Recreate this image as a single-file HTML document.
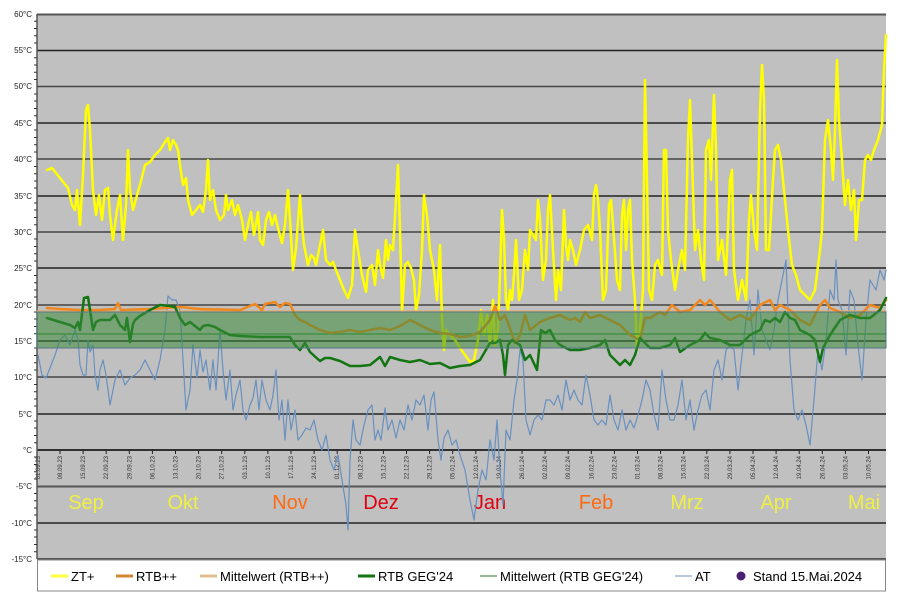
<!DOCTYPE html>
<html><head><meta charset="utf-8"><style>
html,body{margin:0;padding:0;background:#fff;width:902px;height:608px;overflow:hidden}
svg{display:block}
text{font-family:"Liberation Sans",sans-serif}
</style></head><body>
<svg width="902" height="608" viewBox="0 0 902 608" xmlns="http://www.w3.org/2000/svg">
<rect x="37" y="14" width="849" height="545" fill="#c0c0c0"/>
<g stroke="#222" stroke-width="1.5">
<line x1="37" y1="14.5" x2="886" y2="14.5" stroke="#555" stroke-width="2"/>
<line x1="37" y1="50.5" x2="886" y2="50.5"/>
<line x1="37" y1="86.5" x2="886" y2="86.5" stroke="#444"/>
<line x1="37" y1="123" x2="886" y2="123"/>
<line x1="37" y1="159" x2="886" y2="159" stroke="#444"/>
<line x1="37" y1="196" x2="886" y2="196"/>
<line x1="37" y1="232" x2="886" y2="232" stroke="#444"/>
<line x1="37" y1="268" x2="886" y2="268"/>
<line x1="37" y1="305" x2="886" y2="305" stroke="#444"/>
<line x1="37" y1="341" x2="886" y2="341"/>
<line x1="37" y1="377" x2="886" y2="377" stroke="#444"/>
<line x1="37" y1="414" x2="886" y2="414"/>
<line x1="37" y1="450" x2="886" y2="450" stroke="#000"/>
<line x1="37" y1="486.5" x2="886" y2="486.5" stroke="#555" stroke-width="2"/>
<line x1="37" y1="523" x2="886" y2="523"/>
<line x1="37" y1="559" x2="886" y2="559" stroke="#555" stroke-width="2"/>
</g>
<line x1="37" y1="14" x2="37" y2="559" stroke="#555" stroke-width="1.5"/>
<g stroke="#333" stroke-width="1">
<path d="M34 21.3h3M34 28.5h3M34 35.8h3M34 43h3M34 57.8h3M34 65h3M34 72.3h3M34 79.5h3M34 94h3M34 101h3M34 108.5h3M34 115.7h3M34 130h3M34 137.5h3M34 144.7h3M34 152h3M34 166.5h3M34 173.7h3M34 181h3M34 188h3M34 203h3M34 210h3M34 217.5h3M34 224.7h3M34 239h3M34 246.5h3M34 253.7h3M34 261h3M34 275.5h3M34 282.7h3M34 290h3M34 297h3M34 312h3M34 319h3M34 326.5h3M34 333.7h3M34 348h3M34 355.5h3M34 362.7h3M34 370h3M34 384.5h3M34 391.7h3M34 399h3M34 406h3M34 421h3M34 428h3M34 435.5h3M34 442.7h3M34 457h3M34 464.5h3M34 471.7h3M34 479h3M34 493.5h3M34 500.7h3M34 508h3M34 515h3M34 530h3M34 537h3M34 544.5h3M34 551.7h3"/>
</g>
<g font-size="8" fill="#222" text-anchor="end">
<text x="32" y="17">60°C</text><text x="32" y="53">55°C</text><text x="32" y="89">50°C</text><text x="32" y="126">45°C</text><text x="32" y="162">40°C</text><text x="32" y="199">35°C</text><text x="32" y="235">30°C</text><text x="32" y="271">25°C</text><text x="32" y="308">20°C</text><text x="32" y="344">15°C</text><text x="32" y="380">10°C</text><text x="32" y="417">5°C</text><text x="32" y="453">°C</text><text x="32" y="489">-5°C</text><text x="32" y="526">-10°C</text><text x="32" y="562">-15°C</text>
</g>
<!-- date ticks -->
<g stroke="#222" stroke-width="1">
<path d="M60 450v4M83.1 450v4M106.2 450v4M129.3 450v4M152.4 450v4M175.5 450v4M198.6 450v4M221.7 450v4M244.8 450v4M267.9 450v4M291 450v4M314.1 450v4M337.2 450v4M360.3 450v4M383.4 450v4M406.5 450v4M429.6 450v4M452.7 450v4M475.8 450v4M498.9 450v4M522 450v4M545.1 450v4M568.2 450v4M591.3 450v4M614.4 450v4M637.5 450v4M660.6 450v4M683.7 450v4M706.8 450v4M729.9 450v4M753 450v4M776.1 450v4M799.2 450v4M822.3 450v4M845.4 450v4M868.5 450v4"/>
</g>
<g font-size="6" fill="#333" text-anchor="end">
<text transform="translate(40,456) rotate(-90)">01.09.23</text>
<text transform="translate(62,456) rotate(-90)">08.09.23</text>
<text transform="translate(85.1,456) rotate(-90)">15.09.23</text>
<text transform="translate(108.2,456) rotate(-90)">22.09.23</text>
<text transform="translate(131.3,456) rotate(-90)">29.09.23</text>
<text transform="translate(154.4,456) rotate(-90)">06.10.23</text>
<text transform="translate(177.5,456) rotate(-90)">13.10.23</text>
<text transform="translate(200.6,456) rotate(-90)">20.10.23</text>
<text transform="translate(223.7,456) rotate(-90)">27.10.23</text>
<text transform="translate(246.8,456) rotate(-90)">03.11.23</text>
<text transform="translate(269.9,456) rotate(-90)">10.11.23</text>
<text transform="translate(293,456) rotate(-90)">17.11.23</text>
<text transform="translate(316.1,456) rotate(-90)">24.11.23</text>
<text transform="translate(339.2,456) rotate(-90)">01.12.23</text>
<text transform="translate(362.3,456) rotate(-90)">08.12.23</text>
<text transform="translate(385.4,456) rotate(-90)">15.12.23</text>
<text transform="translate(408.5,456) rotate(-90)">22.12.23</text>
<text transform="translate(431.6,456) rotate(-90)">29.12.23</text>
<text transform="translate(454.7,456) rotate(-90)">05.01.24</text>
<text transform="translate(477.8,456) rotate(-90)">12.01.24</text>
<text transform="translate(500.9,456) rotate(-90)">19.01.24</text>
<text transform="translate(524,456) rotate(-90)">26.01.24</text>
<text transform="translate(547.1,456) rotate(-90)">02.02.24</text>
<text transform="translate(570.2,456) rotate(-90)">09.02.24</text>
<text transform="translate(593.3,456) rotate(-90)">16.02.24</text>
<text transform="translate(616.4,456) rotate(-90)">23.02.24</text>
<text transform="translate(639.5,456) rotate(-90)">01.03.24</text>
<text transform="translate(662.6,456) rotate(-90)">08.03.24</text>
<text transform="translate(685.7,456) rotate(-90)">15.03.24</text>
<text transform="translate(708.8,456) rotate(-90)">22.03.24</text>
<text transform="translate(731.9,456) rotate(-90)">29.03.24</text>
<text transform="translate(755,456) rotate(-90)">05.04.24</text>
<text transform="translate(778.1,456) rotate(-90)">12.04.24</text>
<text transform="translate(801.2,456) rotate(-90)">19.04.24</text>
<text transform="translate(824.3,456) rotate(-90)">26.04.24</text>
<text transform="translate(847.4,456) rotate(-90)">03.05.24</text>
<text transform="translate(870.5,456) rotate(-90)">10.05.24</text>
</g>
<g font-size="20" text-anchor="middle">
<text x="86" y="509" fill="#f0f040">Sep</text>
<text x="183" y="509" fill="#f0f040">Okt</text>
<text x="290" y="509" fill="#ff6a10">Nov</text>
<text x="381" y="509" fill="#e00010">Dez</text>
<text x="490" y="509" fill="#e00010">Jan</text>
<text x="596" y="509" fill="#ff6a10">Feb</text>
<text x="687" y="509" fill="#f0f040">Mrz</text>
<text x="776" y="509" fill="#f0f040">Apr</text>
<text x="864" y="509" fill="#f0f040">Mai</text>
</g>
<g fill="none" stroke-linejoin="round" stroke-linecap="round">
<!-- AT -->
<polyline stroke="#6890c0" stroke-width="1.2" points="38,355 42,375 46,378 50,368 55,355 60,340 65,335 70,345 75,330 78,340 80,365 83,375 86,375 88,340 90,352 93,345 95,375 98,390 100,370 103,360 106,375 110,405 115,380 120,370 125,385 130,378 135,375 140,370 145,360 150,370 155,380 160,360 165,330 168,296 172,300 176,300 180,310 183,360 186,410 190,390 193,345 197,378 200,350 203,372 206,360 210,390 213,360 216,390 220,330 223,370 226,400 230,370 233,410 236,395 240,380 243,410 246,420 250,405 253,398 256,380 259,410 262,380 266,400 270,410 273,395 276,370 279,420 282,400 285,440 288,400 291,430 295,410 298,440 302,435 306,428 310,430 314,420 318,440 322,450 326,435 330,460 334,470 338,455 342,480 346,505 348,530 350,460 353,420 356,440 360,445 364,425 368,410 372,405 375,440 378,430 381,440 385,408 388,430 392,420 396,438 400,420 404,430 408,405 412,420 416,400 420,405 424,395 428,430 431,400 434,392 438,440 441,460 444,438 448,430 452,445 456,440 460,455 465,470 470,500 474,520 478,490 482,470 486,480 490,440 494,460 497,420 500,470 503,505 506,430 510,440 514,400 517,380 520,350 523,360 526,420 530,435 534,420 538,415 542,420 546,400 550,400 554,405 558,395 562,410 566,380 570,400 574,390 578,400 582,405 586,375 590,395 594,420 598,425 602,420 606,425 610,395 614,420 618,430 622,410 626,430 630,420 634,428 638,415 642,400 646,380 650,390 654,415 658,430 662,370 666,400 670,420 674,420 678,405 682,380 686,420 690,400 694,430 698,410 702,395 706,390 710,410 714,370 718,360 722,380 726,350 730,345 734,350 738,390 742,355 746,320 750,300 754,355 758,290 762,330 766,340 770,350 774,330 778,300 782,280 786,260 790,360 794,410 798,420 802,410 806,425 810,445 814,400 818,350 822,370 826,340 830,290 834,300 836,260 838,300 842,310 846,355 850,290 854,300 858,345 862,380 866,320 870,280 876,290 880,270 884,280 886,270"/>
<!-- ZT+ -->
<polyline stroke="#ffff00" stroke-width="2.5" points="47,170 52,168 60,178 68,188 72,205 75,210 77,190 80,225 83,175 86,110 88,105 90,130 93,190 96,215 99,195 102,220 105,190 108,188 110,215 113,240 117,210 120,195 123,240 126,205 128,150 130,190 133,210 137,195 140,185 145,165 150,162 155,155 160,150 165,142 168,138 170,150 173,140 176,145 178,150 180,165 183,185 186,178 188,200 192,215 196,210 200,205 203,212 206,190 208,160 210,200 213,190 216,210 220,220 224,215 226,195 228,210 232,200 235,215 238,205 242,220 245,240 248,225 251,212 254,235 258,212 260,240 263,245 266,220 269,212 272,225 275,215 278,228 282,243 285,225 288,190 290,220 293,270 296,248 300,195 302,225 304,245 308,265 311,255 314,258 316,265 320,245 323,230 326,260 330,265 333,262 336,270 340,280 344,290 348,298 352,285 355,230 358,250 362,275 366,292 368,270 372,265 375,285 378,250 380,265 383,278 386,240 388,260 390,245 393,250 396,200 398,165 400,230 402,310 405,265 408,262 411,268 414,280 416,310 419,295 422,250 424,195 427,215 430,250 434,270 437,300 440,245 442,320 444,350 446,330 450,335 455,340 460,348 465,355 470,362 474,360 478,340 481,310 484,335 487,315 490,345 493,300 495,345 498,330 500,275 502,210 504,240 506,300 508,310 510,290 512,300 514,275 516,240 519,300 522,290 525,250 528,270 530,230 533,235 536,240 538,200 540,220 543,280 546,260 548,210 550,195 553,250 556,300 558,270 561,290 564,210 566,245 568,260 570,240 573,250 576,265 580,250 584,230 588,225 592,240 594,195 596,185 598,200 600,230 603,300 606,290 609,205 611,200 613,225 617,280 620,290 622,215 624,200 626,250 628,210 630,200 632,260 635,300 637,350 640,330 643,290 645,80 647,180 649,290 652,300 655,265 658,260 662,275 664,150 666,150 668,230 671,260 675,290 678,270 682,250 685,270 688,140 690,100 692,160 695,250 698,230 701,260 704,280 706,150 709,140 711,180 714,95 716,150 718,260 722,240 726,275 730,180 732,170 734,270 738,300 742,280 746,300 749,220 751,195 754,230 757,250 760,110 762,65 764,100 766,250 769,250 773,180 775,150 778,145 781,160 784,190 788,230 792,265 796,275 800,290 805,295 810,300 815,290 820,250 822,230 825,140 828,120 831,150 833,180 835,130 837,60 839,120 842,160 845,205 848,180 851,210 854,190 856,240 859,200 862,200 865,160 868,155 871,160 874,150 878,140 882,125 884,70 886,35"/>
<!-- Mittelwert lines -->
<line x1="37" y1="311" x2="886" y2="311" stroke="#e0b070" stroke-width="1.2"/>
<line x1="37" y1="334" x2="886" y2="334" stroke="#409040" stroke-width="1.2"/>
<!-- RTB++ -->
<polyline stroke="#f08820" stroke-width="2.5" points="47,308 60,309 80,310 100,310 115,309 118,303 121,310 150,309 165,308 180,307 200,309 240,310 250,306 255,304 262,310 265,304 275,302 280,307 285,303 290,304 295,315 300,320 305,322 310,325 320,330 330,333 340,332 350,330 360,332 370,330 380,328 390,330 400,326 410,320 420,325 430,330 440,333 450,334 460,337 470,336 480,332 490,320 495,306 500,320 505,315 510,328 515,343 520,335 525,315 530,330 540,322 550,318 560,315 570,320 575,318 580,322 585,312 590,318 600,315 610,320 620,325 630,335 640,340 645,318 650,318 660,312 665,315 672,305 680,312 690,310 700,300 705,305 710,300 720,312 730,320 740,315 750,320 760,305 770,300 775,310 780,305 790,310 800,320 810,325 820,305 825,300 830,308 840,312 850,318 860,315 870,305 880,308 886,300"/>
<!-- RTB GEG'24 -->
<polyline stroke="#127512" stroke-width="2.5" points="47,318 60,322 70,325 75,328 78,322 80,330 84,298 88,297 90,310 93,330 96,322 100,320 105,320 110,320 115,315 120,325 125,330 127,318 130,342 133,324 135,320 140,316 145,313 150,310 160,305 170,306 175,307 180,318 185,325 190,322 195,326 200,330 203,326 208,325 215,327 220,330 230,335 240,336 260,337 275,337 290,337 295,345 300,350 305,343 310,352 320,361 325,358 330,358 340,361 350,366 360,366 370,365 380,357 385,366 390,357 400,360 410,362 420,360 430,364 440,363 450,368 460,366 470,365 480,360 490,343 495,343 500,340 503,355 505,375 508,345 512,340 520,345 525,360 530,355 537,370 541,330 545,333 550,330 555,340 560,345 570,350 580,350 590,348 600,345 605,340 610,355 620,365 625,360 630,365 635,355 640,338 650,348 660,348 670,345 675,338 680,352 690,345 700,340 705,333 710,338 720,340 730,345 740,345 750,335 760,330 765,320 770,322 775,318 780,322 785,312 790,318 795,320 800,330 810,335 815,340 820,362 823,348 830,335 840,320 850,315 860,318 870,318 880,310 886,298"/>
</g>
<!-- comfort band -->
<rect x="37" y="312" width="849" height="36" fill="#3a8a3a" fill-opacity="0.55" stroke="#557788" stroke-width="1"/>
<!-- legend -->
<rect x="37.5" y="560" width="848" height="31" fill="#fff" stroke="#888" stroke-width="1"/>
<g font-size="13" fill="#000">
<line x1="51" y1="576" x2="68" y2="576" stroke="#ffff40" stroke-width="3"/><text x="71" y="581">ZT+</text>
<line x1="116" y1="576" x2="133" y2="576" stroke="#d08830" stroke-width="3"/><text x="136" y="581">RTB++</text>
<line x1="200" y1="576" x2="217" y2="576" stroke="#e0c090" stroke-width="3"/><text x="220" y="581">Mittelwert (RTB++)</text>
<line x1="358" y1="576" x2="375" y2="576" stroke="#127512" stroke-width="3"/><text x="378" y="581">RTB GEG'24</text>
<line x1="480" y1="576" x2="497" y2="576" stroke="#70a070" stroke-width="1.5"/><text x="500" y="581">Mittelwert (RTB GEG'24)</text>
<line x1="675" y1="576" x2="692" y2="576" stroke="#a0b8d0" stroke-width="1.5"/><text x="695" y="581">AT</text>
<circle cx="741" cy="576" r="4.5" fill="#4a2070"/><text x="753" y="581">Stand 15.Mai.2024</text>
</g>
</svg>
</body></html>
